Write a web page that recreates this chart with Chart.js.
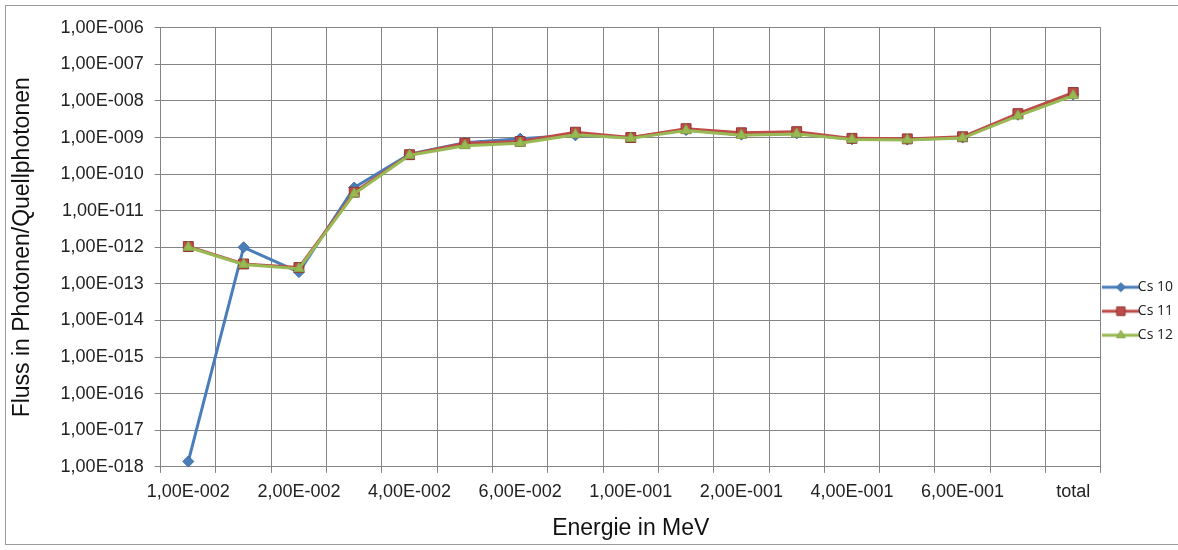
<!DOCTYPE html>
<html>
<head>
<meta charset="utf-8">
<title>Fluss in Photonen/Quellphotonen</title>
<script src="https://cdn.jsdelivr.net/npm/chart.js@4.4.0/dist/chart.umd.min.js"></script>
<style>
  html, body { margin: 0; background: #fff; overflow: hidden; }
  #frame { position: absolute; left: 5px; top: 5px; width: 1200px; height: 538px; border: 1px solid #9a9a9a; background: #fff; }
  canvas { display: block; }
</style>
</head>
<body>
<div id="frame"><canvas id="flux-chart" width="1179" height="538"></canvas></div>
<script>
// Energy bins (MeV) and the summed flux
const energies = [
  "1,00E-002", "1,50E-002", "2,00E-002", "3,00E-002", "4,00E-002", "5,00E-002",
  "6,00E-002", "8,00E-002", "1,00E-001", "1,50E-001", "2,00E-001", "3,00E-001",
  "4,00E-001", "5,00E-001", "6,00E-001", "8,00E-001", "total"
];

// Flux per source photon for each run
const cs10 = [1.4e-18, 1.0e-12, 2.1e-13, 4.3e-11, 3.5e-10, 7.2e-10, 9.3e-10, 1.15e-9, 1.0e-9,
  1.6e-9, 1.2e-9, 1.3e-9, 0.9e-9, 0.88e-9, 1.0e-9, 4.2e-9, 1.5e-8];
const cs11 = [1.05e-12, 3.5e-13, 2.8e-13, 3.2e-11, 3.4e-10, 7.0e-10, 7.8e-10, 1.4e-9, 1.0e-9,
  1.75e-9, 1.35e-9, 1.45e-9, 0.95e-9, 0.92e-9, 1.05e-9, 4.5e-9, 1.7e-8];
const cs12 = [1.0e-12, 3.4e-13, 2.6e-13, 2.9e-11, 3.3e-10, 6.0e-10, 7.0e-10, 1.2e-9, 0.95e-9,
  1.55e-9, 1.15e-9, 1.25e-9, 0.88e-9, 0.86e-9, 0.97e-9, 3.9e-9, 1.4e-8];

// Decades shown on the flux axis
const yTickValues = [1e-18, 1e-17, 1e-16, 1e-15, 1e-14, 1e-13, 1e-12, 1e-11, 1e-10, 1e-9, 1e-8, 1e-7, 1e-6];

const gridColor = "#858585";
Chart.defaults.font.family = "'Liberation Sans', Arial, sans-serif";

// "1,00E-006" style labels
function sciLabel(value) {
  const exp = Math.round(Math.log10(value));
  const sign = exp < 0 ? "-" : "+";
  return "1,00E" + sign + String(Math.abs(exp)).padStart(3, "0");
}

const series = [
  { label: "Cs 10", data: cs10, color: "#4A7EBB", edge: "#3D6A9F", style: "rectRot", radius: 5.5, order: 3 },
  { label: "Cs 11", data: cs11, color: "#BE4B48", edge: "#8E3532", style: "rect", radius: 7, order: 2 },
  { label: "Cs 12", data: cs12, color: "#98B954", edge: "#86A845", style: "triangle", radius: 6, order: 1 }
];

// Legend sample: a short line with the marker in the middle
function legendSwatch(s) {
  const c = document.createElement("canvas");
  c.width = 37;
  c.height = 14;
  const g = c.getContext("2d");
  g.strokeStyle = s.color;
  g.lineWidth = 3;
  g.beginPath();
  g.moveTo(0, 7);
  g.lineTo(37, 7);
  g.stroke();
  g.fillStyle = s.color;
  g.strokeStyle = s.edge;
  g.lineWidth = 1;
  Chart.helpers.drawPoint(g, { pointStyle: s.style, radius: s.radius - 1, borderWidth: 1, rotation: 0 }, 18.5, 7);
  return c;
}
const swatches = series.map(legendSwatch);

const ctx = document.getElementById("flux-chart").getContext("2d");

const fluxChart = new Chart(ctx, {
  type: "line",
  data: {
    labels: energies,
    datasets: series.map(s => ({
      label: s.label,
      data: s.data,
      order: s.order,
      borderColor: s.color,
      backgroundColor: s.color,
      borderWidth: 3,
      tension: 0,
      pointStyle: s.style,
      pointRadius: s.radius,
      pointBackgroundColor: s.color,
      pointBorderColor: s.edge,
      pointBorderWidth: 1
    }))
  },
  options: {
    responsive: false,
    animation: false,
    layout: { padding: { top: 21, left: 0, right: 2, bottom: 2 } },
    plugins: {
      tooltip: { enabled: false },
      legend: {
        position: "right",
        align: "center",
        title: { display: true, text: "", padding: { top: 39, bottom: 0 } },
        labels: {
          usePointStyle: true,
          pointStyleWidth: 20,
          padding: 10,
          color: "#222",
          font: { family: "'Open Sans', sans-serif", size: 14 },
          sort: (a, b) => a.datasetIndex - b.datasetIndex,
          generateLabels: chart =>
            Chart.defaults.plugins.legend.labels.generateLabels(chart).map(item => ({
              ...item,
              pointStyle: swatches[item.datasetIndex]
            }))
        }
      }
    },
    scales: {
      x: {
        offset: true,
        grid: { offset: true, color: gridColor, tickLength: 6 },
        border: { color: gridColor },
        ticks: {
          autoSkip: false,
          maxRotation: 0,
          padding: 8,
          color: "#222",
          font: { size: 18 },
          callback: function (value, index) {
            return index % 2 === 0 ? this.getLabelForValue(value) : "";
          }
        },
        title: {
          display: true,
          text: "Energie in MeV",
          color: "#111",
          font: { size: 23 },
          padding: { top: 4, bottom: 0 }
        }
      },
      y: {
        type: "logarithmic",
        min: 1e-18,
        max: 1e-6,
        afterBuildTicks: axis => {
          axis.ticks = yTickValues.map(value => ({ value, major: true }));
        },
        grid: { color: gridColor, tickLength: 6 },
        border: { color: gridColor },
        ticks: {
          padding: 11,
          color: "#222",
          font: { size: 18 },
          callback: value => sciLabel(value)
        },
        title: {
          display: true,
          text: "Fluss in Photonen/Quellphotonen",
          color: "#111",
          font: { size: 23 },
          padding: { top: 3, bottom: 13 }
        }
      }
    }
  }
});
</script>
</body>
</html>
